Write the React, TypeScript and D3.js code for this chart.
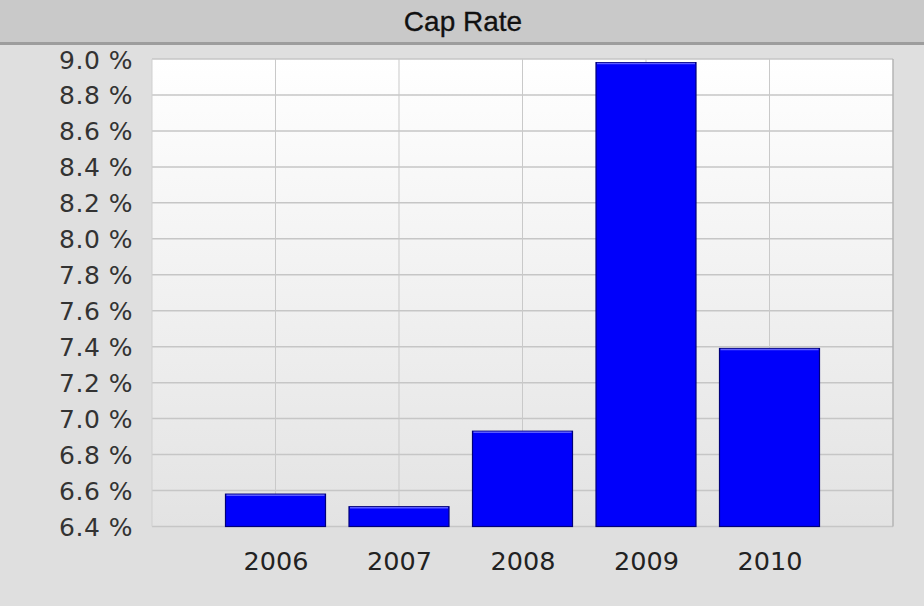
import { useEffect, useRef } from 'react';
import * as d3 from 'd3';

// values
const years = ['2006', '2007', '2008', '2009', '2010'];
const capRates = [6.58, 6.51, 6.93, 8.98, 7.39];
const yTicks = [6.4, 6.6, 6.8, 7.0, 7.2, 7.4, 7.6, 7.8, 8.0, 8.2, 8.4, 8.6, 8.8, 9.0];

const width = 924;
const height = 606;
const marginTop = 59;
const marginRight = 31;
const marginBottom = 79.5;
const marginLeft = 152;
const barWidth = 100;

export default function App() {
  const x = d3.scalePoint()
    .domain(years)
    .range([marginLeft, width - marginRight])
    .padding(1);

  const y = d3.scaleLinear()
    .domain([6.4, 9.0])
    .range([height - marginBottom, marginTop]);

  const gx = useRef<SVGGElement>(null);
  const gy = useRef<SVGGElement>(null);

  useEffect(() => {
    if (gx.current) {
      const g = d3.select(gx.current);
      g.selectAll('*').remove();
      g.call(d3.axisBottom(x).tickSize(0).tickPadding(0));
      g.select('.domain').remove();
      g.selectAll('text')
        .attr('y', 43)
        .attr('dy', null)
        .attr('fill', '#222')
        .style('font-family', '"DejaVu Sans", Verdana, sans-serif')
        .style('font-size', '25.5px');
    }
  }, [gx, x]);

  useEffect(() => {
    if (gy.current) {
      const g = d3.select(gy.current);
      g.selectAll('*').remove();
      g.call(d3.axisLeft(y).tickValues(yTicks).tickSize(0).tickPadding(0)
        .tickFormat(d => d3.format('.1f')(d as number) + ' %'));
      g.select('.domain').remove();
      g.selectAll('text')
        .attr('x', -19)
        .attr('dy', '0.36em')
        .attr('fill', '#333')
        .style('font-family', '"DejaVu Sans", Verdana, sans-serif')
        .style('font-size', '25px')
        .style('letter-spacing', '0.5px');
    }
  }, [gy, y]);

  const plotW = width - marginRight - marginLeft;
  const plotH = height - marginBottom - marginTop;

  return (
    <svg width={width} height={height} style={{ position: 'absolute', left: 0, top: 0 }}>
      <defs>
        <linearGradient id="plotBg" x1="0" y1="0" x2="0" y2="1">
          <stop offset="0%" stopColor="#ffffff" />
          <stop offset="100%" stopColor="#e3e3e3" />
        </linearGradient>
      </defs>
      <rect x={0} y={0} width={width} height={height} fill="#dfdfdf" />
      {/* title bar */}
      <rect x={0} y={0} width={width} height={42} fill="#c9c9c9" />
      <rect x={0} y={42} width={width} height={3} fill="#9d9d9d" />
      <text x={463} y={31} textAnchor="middle" fill="#111"
        style={{ fontFamily: '"Liberation Sans", Arial, sans-serif', fontSize: 28, fontWeight: 500 }}
        stroke="#111" strokeWidth={0.3}>
        Cap Rate
      </text>

      {/* plot area */}
      <rect x={marginLeft} y={marginTop} width={plotW} height={plotH} fill="url(#plotBg)" />
      {yTicks.map(t =>
        <line key={t} x1={marginLeft} x2={width - marginRight} y1={y(t)} y2={y(t)}
          stroke="#c6c6c6" strokeWidth={1.5} />)}
      {years.map(yr =>
        <line key={yr} x1={x(yr)} x2={x(yr)} y1={marginTop} y2={height - marginBottom}
          stroke="#c9c9c9" strokeWidth={1} />)}
      <line x1={marginLeft} x2={marginLeft} y1={marginTop} y2={height - marginBottom} stroke="#cfcfcf" />
      <line x1={width - marginRight} x2={width - marginRight} y1={marginTop} y2={height - marginBottom}
        stroke="#b5b5b5" strokeWidth={1.5} />

      {years.map((yr, i) =>
        <g key={yr}>
          <rect
            x={(x(yr) ?? 0) - barWidth / 2}
            y={y(capRates[i])}
            width={barWidth}
            height={y(6.4) - y(capRates[i])}
            fill="#0000fb"
            stroke="#00007a"
            strokeWidth={1.2} />
          <line
            x1={(x(yr) ?? 0) - barWidth / 2 + 1}
            x2={(x(yr) ?? 0) + barWidth / 2 - 1}
            y1={y(capRates[i]) + 1}
            y2={y(capRates[i]) + 1}
            stroke="#5c5cff" strokeWidth={1.5} />
        </g>)}

      <g ref={gx} transform={`translate(0,${height - marginBottom})`}></g>
      <g ref={gy} transform={`translate(${marginLeft},0)`}></g>
    </svg>
  );
}
